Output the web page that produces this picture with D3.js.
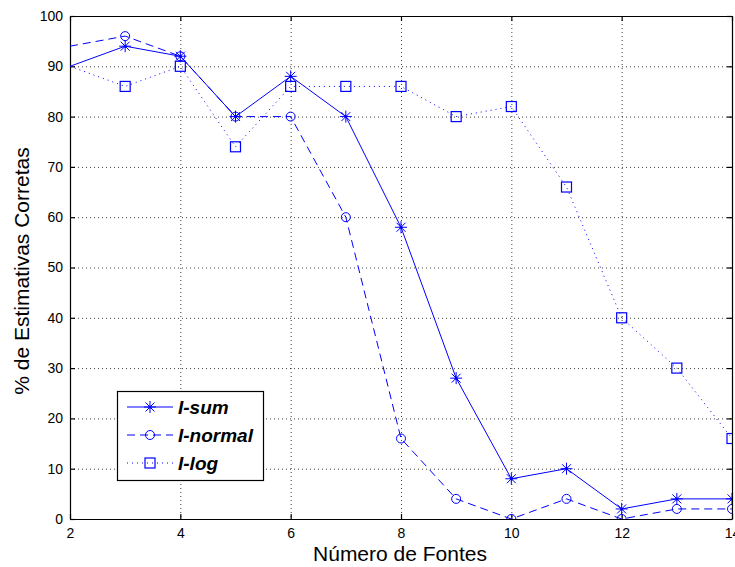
<!DOCTYPE html>
<html>
<head>
<meta charset="utf-8">
<script src="https://cdn.jsdelivr.net/npm/d3@7"></script>
<style>
  html, body { margin: 0; padding: 0; background: #fff; }
  svg { display: block; }
  .tick-label { font-family: "Liberation Sans Narrow", "Arial Narrow", "Liberation Sans", Arial, sans-serif; font-size: 14px; fill: #000; }
  .axis-title { font-family: "Liberation Sans", Arial, sans-serif; font-size: 21px; fill: #000; }
  .legend-text { font-family: "Liberation Sans", Arial, sans-serif; font-size: 19px; font-style: italic; font-weight: bold; fill: #000; }
</style>
</head>
<body>
<script>
// Number of sources on the x axis
const fontes = [2, 3, 4, 5, 6, 7, 8, 9, 10, 11, 12, 13, 14];
// Percentage of correct estimates for each method
const iSum    = [90, 94, 92, 80, 88, 80, 58, 28, 8, 10, 2, 4, 4];
const iNormal = [94, 96, 92, 80, 80, 60, 16, 4, 0, 4, 0, 2, 2];
const iLog    = [90, 86, 90, 74, 86, 86, 86, 80, 82, 66, 40, 30, 16];
const xTicks = [2, 4, 6, 8, 10, 12, 14];
const yTicks = [0, 10, 20, 30, 40, 50, 60, 70, 80, 90, 100];
const seriesNames = ["I-sum", "I-normal", "I-log"];

const W = 735, H = 567;
const pLeft = 70, pRight = 732, pTop = 16, pBottom = 519;

const svg = d3.select("body").append("svg").attr("width", W).attr("height", H);

const x = d3.scaleLinear().domain([2, 14]).range([pLeft, pRight]);
const y = d3.scaleLinear().domain([0, 100]).range([pBottom, pTop]);

svg.append("defs").append("clipPath").attr("id", "plot-clip")
  .append("rect").attr("x", pLeft).attr("y", pTop).attr("width", pRight - pLeft).attr("height", pBottom - pTop);

// Dotted grid
const grid = svg.append("g");
grid.selectAll("line.gx").data(xTicks.slice(1, -1)).join("line")
  .attr("x1", d => x(d) + 0.5).attr("x2", d => x(d) + 0.5).attr("y1", pTop).attr("y2", pBottom)
  .attr("stroke", "#000").attr("stroke-width", 1).attr("stroke-dasharray", "1,3").attr("opacity", 0.75);
grid.selectAll("line.gy").data(yTicks.slice(1, -1)).join("line")
  .attr("y1", d => y(d) + 0.5).attr("y2", d => y(d) + 0.5).attr("x1", pLeft).attr("x2", pRight)
  .attr("stroke", "#000").attr("stroke-width", 1).attr("stroke-dasharray", "1,3").attr("opacity", 0.75);

// Axes: bottom and left with labels, top and right as a box with inward ticks
const tickLen = 5;
const axB = d3.axisBottom(x).tickValues(xTicks).tickSizeInner(-tickLen).tickSizeOuter(0).tickPadding(9);
const axT = d3.axisTop(x).tickValues(xTicks).tickSizeInner(-tickLen).tickSizeOuter(0).tickFormat("");
const axL = d3.axisLeft(y).tickValues(yTicks).tickSizeInner(-tickLen).tickSizeOuter(0).tickPadding(7);
const axR = d3.axisRight(y).tickValues(yTicks).tickSizeInner(-tickLen).tickSizeOuter(0).tickFormat("");

function styleAxis(g) {
  g.attr("font-family", null).attr("font-size", null);
  g.select(".domain").attr("stroke", "#000").attr("stroke-width", 1.2);
  g.selectAll(".tick line").attr("stroke", "#000").attr("stroke-width", 1.2);
  g.selectAll(".tick text").attr("class", "tick-label");
}
svg.append("g").attr("transform", `translate(0,${pBottom})`).call(axB).call(styleAxis);
svg.append("g").attr("transform", `translate(0,${pTop})`).call(axT).call(styleAxis);
svg.append("g").attr("transform", `translate(${pLeft},0)`).call(axL).call(styleAxis);
svg.append("g").attr("transform", `translate(${pRight},0)`).call(axR).call(styleAxis);

// Axis titles
svg.append("text").attr("class", "axis-title").attr("x", 400).attr("y", 561)
  .attr("text-anchor", "middle").text("Número de Fontes");
svg.append("text").attr("class", "axis-title")
  .attr("transform", `translate(29,271) rotate(-90)`)
  .attr("text-anchor", "middle").text("% de Estimativas Corretas");

const blue = "#0000ff";
const series = [
  { name: seriesNames[0], values: iSum, dash: null, marker: "star" },
  { name: seriesNames[1], values: iNormal, dash: "8,5", marker: "circle" },
  { name: seriesNames[2], values: iLog, dash: "1,4", marker: "square" }
];

function drawMarker(g, type, cx, cy) {
  if (type === "star") {
    const r = 6, d = 4.5;
    const p = `M${cx - r},${cy}L${cx + r},${cy}M${cx},${cy - r}L${cx},${cy + r}` +
      `M${cx - d},${cy - d}L${cx + d},${cy + d}M${cx - d},${cy + d}L${cx + d},${cy - d}`;
    g.append("path").attr("d", p).attr("stroke", blue).attr("stroke-width", 1).attr("fill", "none");
    g.append("circle").attr("cx", cx).attr("cy", cy).attr("r", 1.5).attr("fill", blue);
  } else if (type === "circle") {
    g.append("circle").attr("cx", cx).attr("cy", cy).attr("r", 4.5)
      .attr("stroke", blue).attr("stroke-width", 1).attr("fill", "none");
  } else {
    g.append("rect").attr("x", cx - 5).attr("y", cy - 5).attr("width", 10).attr("height", 10)
      .attr("stroke", blue).attr("stroke-width", 1.2).attr("fill", "none");
  }
}

const plot = svg.append("g").attr("clip-path", "url(#plot-clip)");
const line = d3.line().x((d, i) => x(fontes[i])).y(d => y(d));

series.forEach(s => {
  plot.append("path").attr("d", line(s.values)).attr("fill", "none")
    .attr("stroke", blue).attr("stroke-width", 1)
    .attr("stroke-dasharray", s.dash);
  const mg = plot.append("g");
  s.values.forEach((v, i) => {
    // the first sample sits on the left axis edge and carries no marker
    if (i === 0) return;
    drawMarker(mg, s.marker, x(fontes[i]), y(v));
  });
});

// Legend
const lg = svg.append("g");
const lx = 117, ly = 391, lw = 146, lh = 89;
lg.append("rect").attr("x", lx + 0.5).attr("y", ly + 0.5).attr("width", lw).attr("height", lh)
  .attr("fill", "#fff").attr("stroke", "#000").attr("stroke-width", 1.2);
series.forEach((s, i) => {
  const yy = ly + 16 + i * 28;
  lg.append("line").attr("x1", lx + 10).attr("x2", lx + 56).attr("y1", yy).attr("y2", yy)
    .attr("stroke", blue).attr("stroke-width", 1).attr("stroke-dasharray", s.dash);
  drawMarker(lg, s.marker, lx + 33, yy);
  lg.append("text").attr("class", "legend-text").attr("x", lx + 61).attr("y", yy + 7).text(s.name);
});
</script>
</body>
</html>
